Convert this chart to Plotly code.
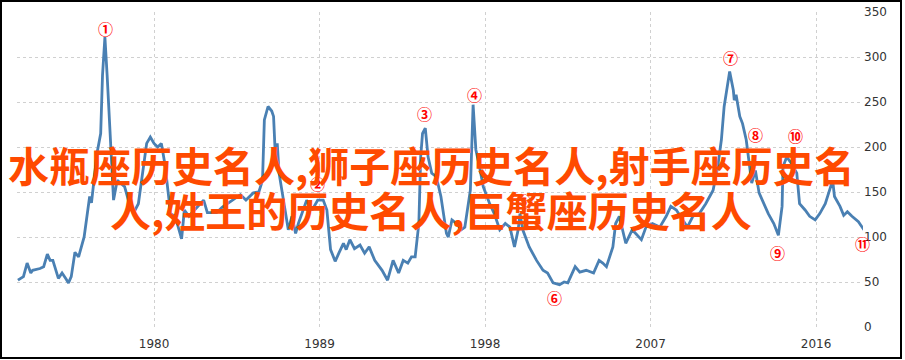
import plotly.graph_objects as go

years = [1972.6, 1972.9, 1973.1, 1973.3, 1973.4, 1973.8, 1974.0, 1974.2, 1974.35, 1974.5,
         1974.8, 1975.0, 1975.2, 1975.35, 1975.5, 1975.7, 1975.9, 1976.2, 1976.5, 1976.6,
         1976.9, 1977.1, 1977.2, 1977.33, 1977.45, 1977.6, 1977.7, 1977.8, 1978.0, 1978.15,
         1978.4, 1978.7, 1978.9, 1979.15, 1979.4, 1979.6, 1979.8, 1980.0, 1980.2, 1980.4,
         1980.6, 1980.9, 1981.15, 1981.5, 1981.65, 1981.9, 1982.2, 1982.5, 1982.7, 1982.9,
         1983.4, 1983.7, 1984.0, 1984.3, 1984.7, 1985.0, 1985.4, 1985.7, 1985.9, 1986.0,
         1986.2, 1986.4, 1986.5, 1986.6, 1986.7, 1986.8, 1987.1, 1987.3, 1987.5, 1987.7,
         1987.85, 1988.0, 1988.3, 1988.6, 1988.9, 1989.2, 1989.4, 1989.6, 1989.85, 1990.05,
         1990.3, 1990.45, 1990.65, 1990.9, 1991.2, 1991.45, 1991.7, 1992.0, 1992.4, 1992.7,
         1993.0, 1993.3, 1993.55, 1993.8, 1994.0, 1994.2, 1994.4, 1994.5, 1994.6, 1994.75,
         1994.9, 1995.1, 1995.35, 1995.6, 1995.9, 1996.0, 1996.2, 1996.45, 1996.7, 1996.9,
         1997.2, 1997.35, 1997.5, 1997.7, 1997.9, 1998.25, 1998.5, 1998.8, 1999.1, 1999.35,
         1999.6, 1999.8, 1999.9, 2000.05, 2000.4, 2000.8, 2001.15, 2001.4, 2001.7, 2002.05,
         2002.3, 2002.5, 2002.9, 2003.15, 2003.5, 2003.9, 2004.2, 2004.4, 2004.6, 2004.95,
         2005.1, 2005.3, 2005.65, 2006.0, 2006.5, 2006.75, 2007.1, 2007.5, 2007.85, 2008.1,
         2008.4, 2008.75, 2009.0, 2009.3, 2009.65, 2010.0, 2010.4, 2010.65, 2010.85, 2011.0,
         2011.3, 2011.5, 2011.55, 2011.65, 2011.85, 2012.0, 2012.2, 2012.5, 2012.7, 2012.9,
         2013.15, 2013.4, 2013.7, 2013.95, 2014.15, 2014.2, 2014.4, 2014.65, 2014.95, 2015.1,
         2015.4, 2015.65, 2015.95, 2016.2, 2016.5, 2016.75, 2016.9, 2017.0, 2017.3, 2017.5,
         2017.7, 2017.95, 2018.3, 2018.6]
values = [52, 56, 71, 60, 63, 65, 67, 81, 74, 74,
          54, 60, 54, 49, 56, 83, 78, 100, 145, 138,
          193, 215, 280, 322, 280, 219, 174, 141, 163, 160,
          156, 134, 127, 137, 174, 204, 211, 204, 200, 204,
          180, 126, 123, 98, 130, 123, 130, 136, 141, 127,
          127, 133, 137, 141, 147, 141, 149, 150, 163, 230,
          245, 240, 234, 189, 204, 171, 134, 108, 123, 104,
          115, 123, 141, 130, 141, 141, 130, 86, 73, 82,
          93, 86, 97, 87, 91, 82, 89, 74, 63, 52,
          74, 60, 74, 71, 78, 78, 115, 189, 215, 221,
          189, 171, 167, 145, 104, 100, 119, 115, 108, 111,
          152, 247, 197, 178, 156, 137, 126, 108, 115, 111,
          89, 108, 126, 108, 89, 74, 63, 60, 49, 47,
          50, 49, 67, 61, 63, 60, 74, 71, 67, 89,
          115, 123, 93, 108, 97, 111, 115, 111, 123, 134,
          130, 119, 111, 123, 126, 137, 152, 178, 208, 245,
          284, 263, 252, 258, 234, 226, 208, 160, 174, 149,
          137, 126, 115, 102, 134, 178, 189, 182, 171, 137,
          130, 123, 119, 126, 137, 152, 163, 145, 134, 124,
          128, 123, 117, 108]

marker_labels = ["①", "②", "③", "④", "⑤", "⑥", "⑦", "⑧", "⑨", "⑩", "⑪"]
marker_years = [1977.35, 1988.9, 1994.7, 1997.4, 2000.1, 2001.8, 2011.35, 2012.7, 2013.9, 2014.9, 2018.5]
marker_values = [332, 160, 237, 258, 141, 33, 299, 214, 83, 213, 93]

x_ticks = [1980, 1989, 1998, 2007, 2016]
y_ticks = [0, 50, 100, 150, 200, 250, 300, 350]

title_line1 = "水瓶座历史名人,狮子座历史名人,射手座历史名"
title_line2 = "人,姓王的历史名人,巨蟹座历史名人"

fig = go.Figure()
fig.add_trace(go.Scatter(x=years, y=values, mode="lines",
                         line=dict(color="#4a80b3", width=2.8), hoverinfo="skip"))

for lab, xx, yy in zip(marker_labels, marker_years, marker_values):
    fig.add_annotation(x=xx, y=yy, text=lab, showarrow=False,
                       font=dict(color="#ff0000", size=15, family="Noto Sans CJK SC", weight=700))

fig.add_annotation(xref="paper", yref="paper", x=(431 - 17) / 846, y=(327 - 164) / 315,
                   text=title_line1, showarrow=False, xanchor="center", yanchor="middle",
                   font=dict(color="#ff4a00", size=41, family="Noto Sans CJK SC", weight=700))
fig.add_annotation(xref="paper", yref="paper", x=(431 - 17) / 846, y=(327 - 209) / 315,
                   text=title_line2, showarrow=False, xanchor="center", yanchor="middle",
                   font=dict(color="#ff4a00", size=41, family="Noto Sans CJK SC", weight=700))

fig.add_shape(type="rect", xref="paper", yref="paper",
              x0=(1 - 17) / 846, x1=(901 - 17) / 846,
              y0=(327 - 358) / 315, y1=(327 - 1) / 315,
              line=dict(color="#000000", width=2), fillcolor="rgba(0,0,0,0)")

fig.update_layout(
    width=905, height=360,
    margin=dict(l=17, r=42, t=12, b=33),
    paper_bgcolor="white", plot_bgcolor="white",
    showlegend=False,
    xaxis=dict(range=[1972.55, 2018.55], tickvals=x_ticks, ticktext=[str(t) for t in x_ticks],
               showgrid=True, gridcolor="#d0d0d0", griddash="dot", gridwidth=1,
               zeroline=False, showline=False, ticks="", ticklabelstandoff=8, automargin=False,
               tickfont=dict(family="DejaVu Sans", size=12, color="#333333")),
    yaxis=dict(range=[0, 350], tickvals=y_ticks, side="right", automargin=False,
               showgrid=True, gridcolor="#d0d0d0", griddash="dot", gridwidth=1,
               zeroline=False, showline=False, ticks="",
               tickfont=dict(family="DejaVu Sans", size=12, color="#333333")),
)

fig.write_html("out.html")
